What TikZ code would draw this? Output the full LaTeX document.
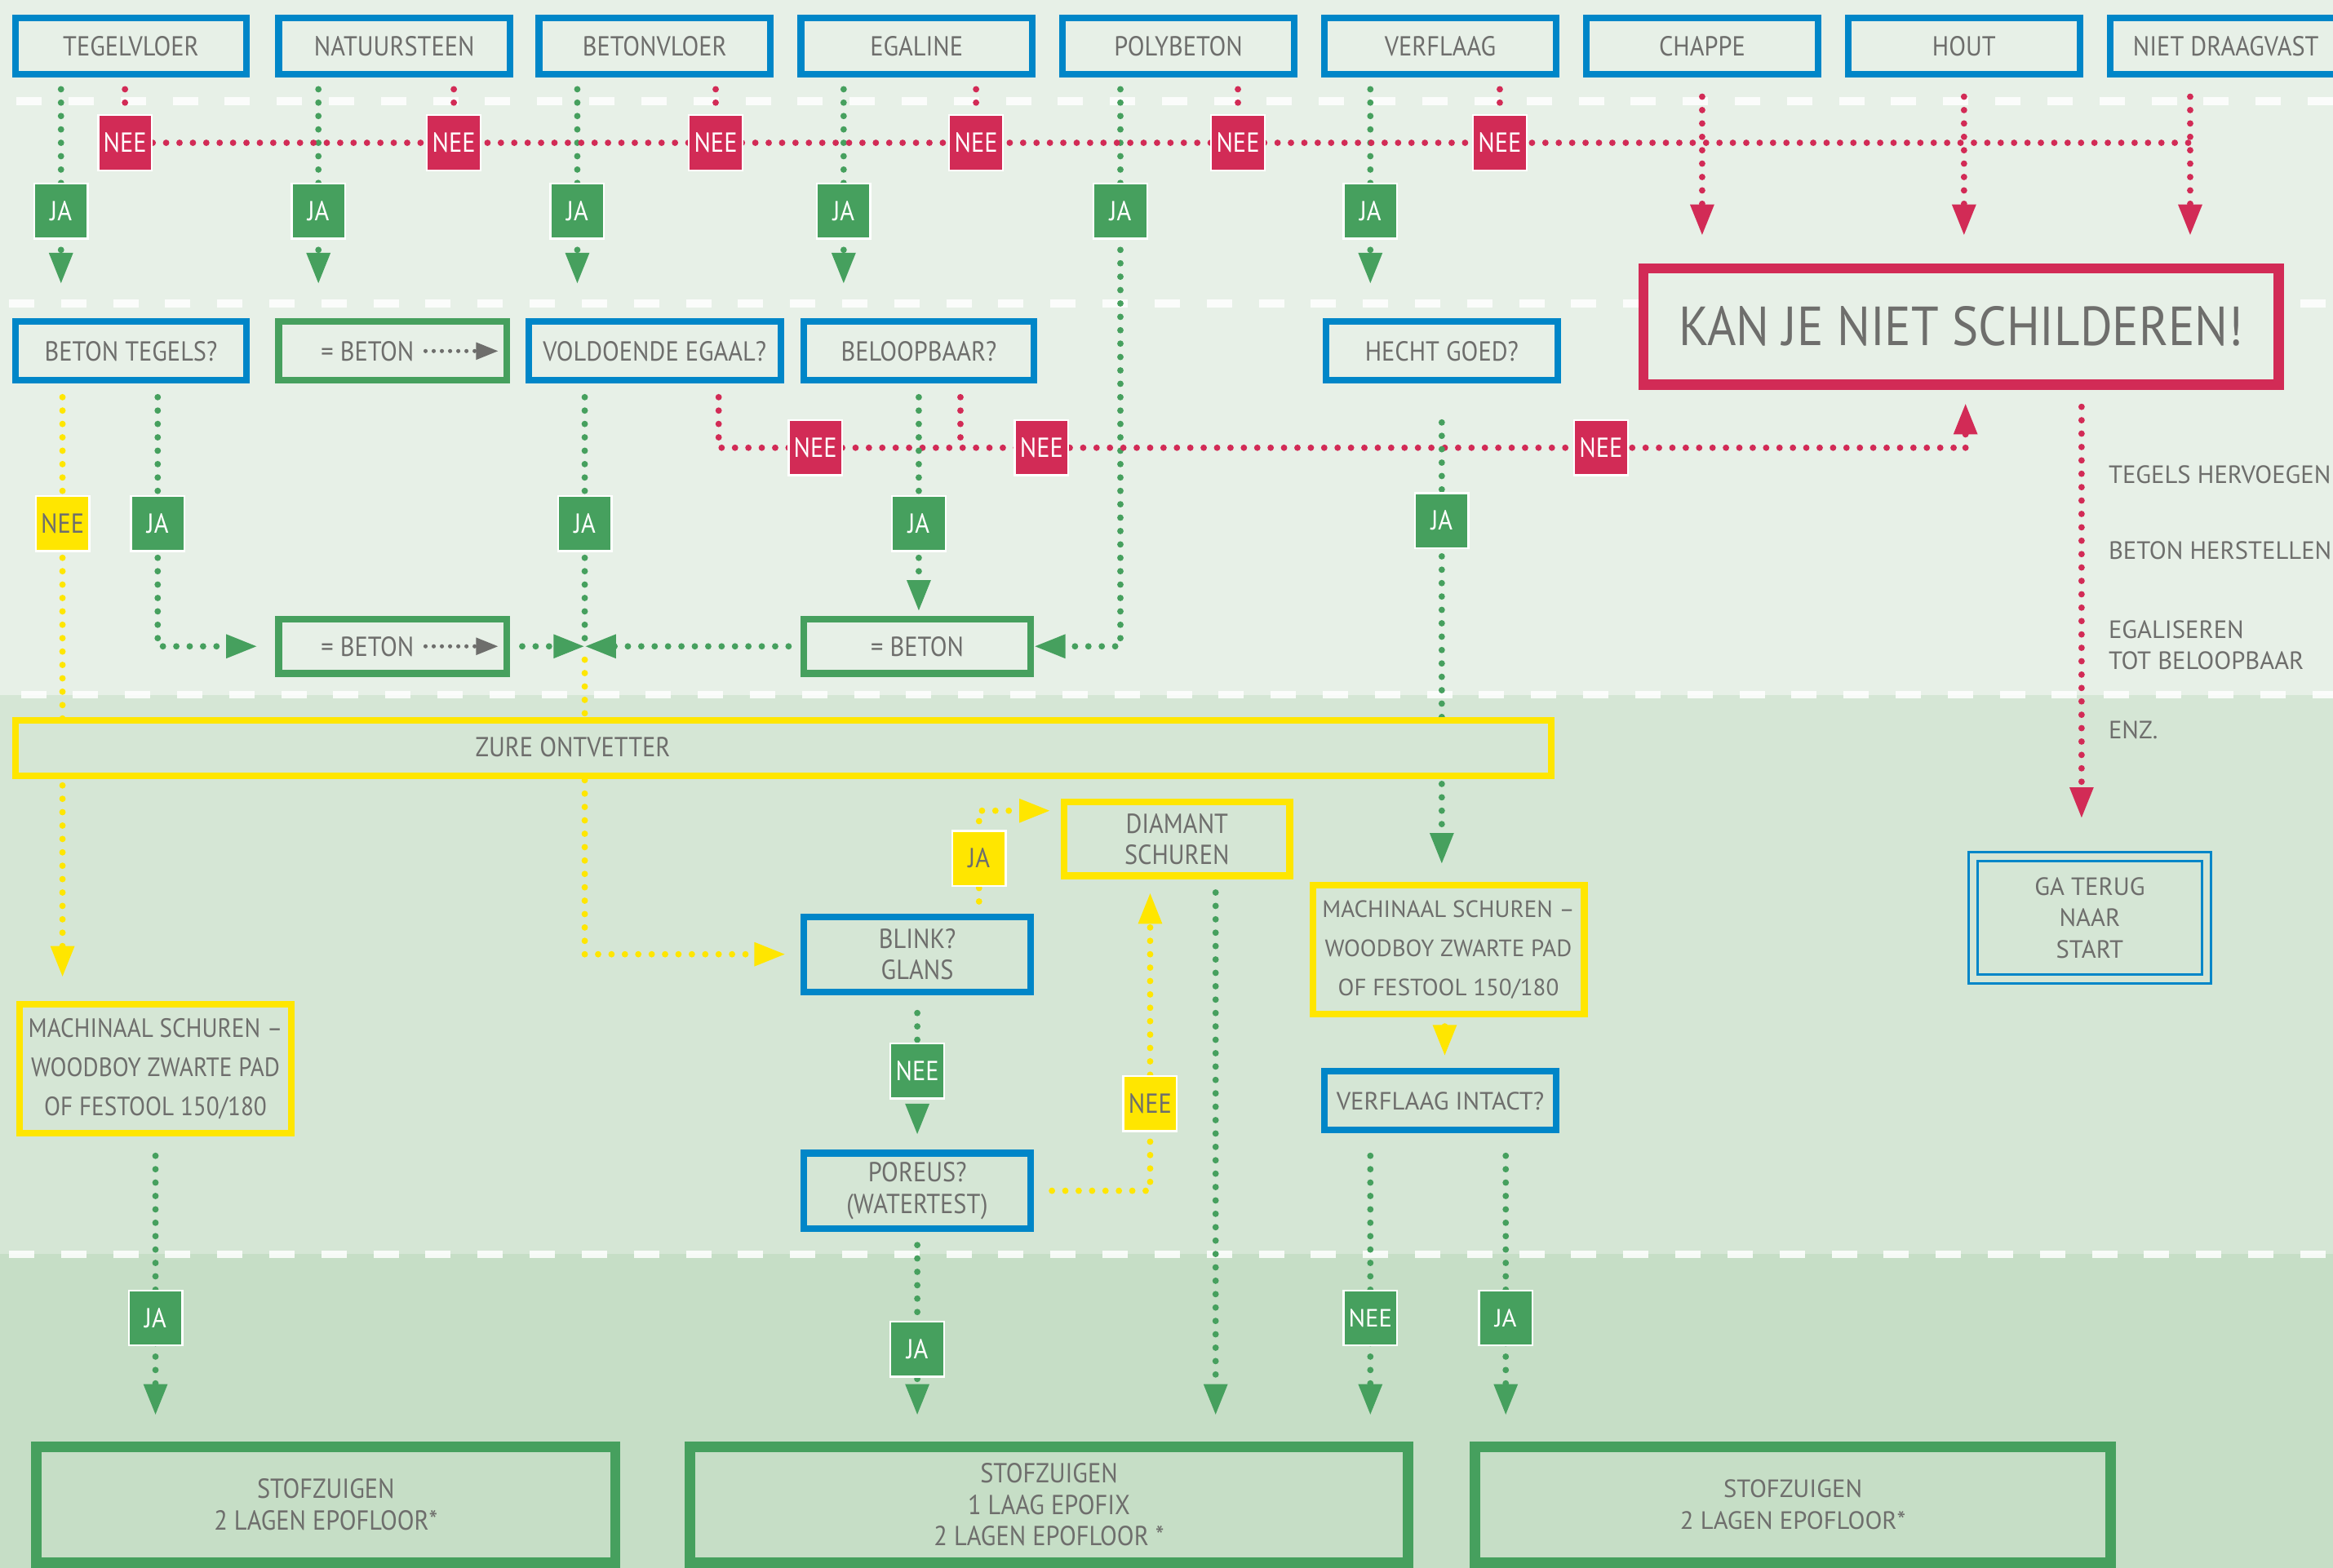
\documentclass[tikz,border=0pt]{standalone}
\usepackage{fontspec}
\setmainfont{PT Sans}
\newfontfamily\cndfont{PT Sans}[FakeStretch=0.9]
\usetikzlibrary{arrows.meta,calc}
\definecolor{bgA}{RGB}{231,240,231}
\definecolor{bgB}{RGB}{213,230,213}
\definecolor{bgC}{RGB}{198,222,198}
\definecolor{cblue}{RGB}{0,134,200}
\definecolor{cgreen}{RGB}{70,160,94}
\definecolor{cred}{RGB}{210,43,86}
\definecolor{cyel}{RGB}{255,230,0}
\definecolor{tgray}{RGB}{110,110,108}
\pgfdeclarelayer{bands}
\pgfdeclarelayer{wires}
\pgfsetlayers{bands,wires,main}
\begin{document}
\begin{tikzpicture}[x=1pt,y=-1pt,
  box/.style={draw, line width=4.5pt, inner sep=0pt, text=tgray, align=center, fill=bgA, font=\cndfont\fontsize{18.5}{21}\selectfont},
  bl/.style={box, draw=cblue},
  gr/.style={box, draw=cgreen},
  ye/.style={box, draw=cyel},
  topbox/.style={bl, minimum width=155.5pt, minimum height=37.5pt},
  widefont/.style={font=\fontsize{16.8}{21}\selectfont},
  lab/.style={draw=white, line width=1.3pt, minimum width=36pt, minimum height=37pt, inner sep=0pt, text=white, font=\cndfont\fontsize{18.5}{20}\selectfont},
  jag/.style={lab, fill=cgreen},
  neer/.style={lab, fill=cred},
  ney/.style={lab, fill=cyel, text=tgray},
  dotline/.style={line width=4.3pt, line cap=round, dash pattern=on 0pt off 9pt},
  gd/.style={dotline, draw=cgreen},
  rd/.style={dotline, draw=cred},
  yd/.style={dotline, draw=cyel},
  arr/.style={-{Triangle[width=15pt,length=21pt]}},
  wtxt/.style={text=tgray, font=\fontsize{16.8}{21}\selectfont, inner sep=0pt, align=left},
]
\useasboundingbox (0,0) rectangle (1568,1054);
\begin{pgfonlayer}{bands}
\fill[bgA] (0,0) rectangle (1568,467);
\fill[bgB] (0,467) rectangle (1568,843);
\fill[bgC] (0,843) rectangle (1568,1054);
\foreach \yy/\xs in {68/11,204/6,467/14,843/6}
  \draw[white, opacity=.85, line width=5pt, dash pattern=on 17pt off 18pt] (\xs,\yy) -- (1568,\yy);
\end{pgfonlayer}

% top row
\node[topbox] (t1) at (88,31) {TEGELVLOER};
\node[topbox] (t2) at (265,31) {NATUURSTEEN};
\node[topbox] (t3) at (440,31) {BETONVLOER};
\node[topbox] (t4) at (616,31) {EGALINE};
\node[topbox] (t5) at (792,31) {POLYBETON};
\node[topbox] (t6) at (968,31) {VERFLAAG};
\node[topbox] (t7) at (1144,31) {CHAPPE};
\node[topbox] (t8) at (1320,31) {HOUT};
\node[topbox] (t9) at (1496,31) {NIET DRAAGVAST};

% second row
\node[bl, minimum width=155.5pt, minimum height=39.5pt] (b1) at (88,236) {BETON TEGELS?};
\node[gr, minimum width=153.5pt, minimum height=39.5pt] (b2) at (264,236) {= BETON\hspace{34pt}};
\node[bl, minimum width=169.5pt, minimum height=39.5pt] (b3) at (440,236) {VOLDOENDE EGAAL?};
\node[bl, minimum width=154.5pt, minimum height=39.5pt] (b4) at (617.5,236) {BELOOPBAAR?};
\node[bl, minimum width=155.5pt, minimum height=39.5pt] (b6) at (969,236) {HECHT GOED?};
\node[box, draw=cred, line width=7pt, minimum width=427pt, minimum height=78pt, font=\cndfont\fontsize{37}{40}\selectfont] (kan) at (1318,219.5) {KAN JE NIET SCHILDEREN!};

% third row
\node[gr, minimum width=153.5pt, minimum height=36.5pt] (eb2) at (264,434.5) {= BETON\hspace{34pt}};
\node[gr, minimum width=152.5pt, minimum height=36.5pt] (eb3) at (616.5,434.5) {= BETON};

% zure ontvetter
\node[ye, fill=bgB, minimum width=1032.5pt, minimum height=37.5pt] (zure) at (526.5,503) {};
\node[text=tgray, font=\cndfont\fontsize{18.5}{21}\selectfont, inner sep=0pt] (zuret) at (385,502) {ZURE ONTVETTER};

% middle
\node[ye, fill=bgB, minimum width=151.5pt, minimum height=49.5pt] (diam) at (791,564) {DIAMANT\\SCHUREN};
\node[bl, fill=bgB, minimum width=152.5pt, minimum height=50.5pt] (blink) at (616.5,641.5) {BLINK?\\GLANS};
\node[bl, fill=bgB, minimum width=152.5pt, minimum height=50.5pt] (poreus) at (616.5,800.5) {POREUS?\\(WATERTEST)};
\node[ye, fill=bgB, minimum width=182.5pt, minimum height=86.5pt, font=\fontsize{15.9}{26.5}\selectfont] (mach2) at (973.5,638.5) {MACHINAAL SCHUREN –\\WOODBOY ZWARTE PAD\\OF FESTOOL 150/180};
\node[bl, fill=bgB, minimum width=155.5pt, minimum height=39.5pt, widefont] (verfl) at (968,740) {VERFLAAG INTACT?};
\node[ye, fill=bgB, minimum width=182.5pt, minimum height=86.5pt, font=\cndfont\fontsize{17.8}{26.5}\selectfont] (mach1) at (104.5,718.5) {MACHINAAL SCHUREN –\\WOODBOY ZWARTE PAD\\OF FESTOOL 150/180};
\node[draw=cblue, double=bgB, double distance=4.5pt, line width=1.5pt, minimum width=157pt, minimum height=82pt, inner sep=0pt, text=tgray, align=center, font=\fontsize{16.8}{21}\selectfont] (gaterug) at (1404.5,617) {GA TERUG\\NAAR\\START};

% right side texts
\node[wtxt, anchor=west] (h1) at (1417,319) {TEGELS HERVOEGEN};
\node[wtxt, anchor=west] (h2) at (1417,370) {BETON HERSTELLEN};
\node[wtxt, anchor=west] (h3) at (1417,433.5) {EGALISEREN\\TOT BELOOPBAAR};
\node[wtxt, anchor=west] (h4) at (1417,491) {ENZ.};

% bottom
\node[gr, fill=bgC, line width=7pt, minimum width=389pt, minimum height=78pt] (bleft) at (219,1011.5) {STOFZUIGEN\\2 LAGEN EPOFLOOR*};
\node[gr, fill=bgC, line width=7pt, minimum width=483pt, minimum height=78pt] (bmid) at (705,1011.5) {STOFZUIGEN\\1 LAAG EPOFIX\\2 LAGEN EPOFLOOR *};
\node[gr, fill=bgC, line width=7pt, minimum width=427pt, minimum height=78pt, widefont] (bright) at (1205,1011.5) {STOFZUIGEN\\2 LAGEN EPOFLOOR*};

% labels
\node[neer] (n1) at (84,96) {NEE};
\node[neer] (n2) at (305,96) {NEE};
\node[neer] (n3) at (481,96) {NEE};
\node[neer] (n4) at (656,96) {NEE};
\node[neer] (n5) at (832,96) {NEE};
\node[neer] (n6) at (1008,96) {NEE};
\node[jag] (j1l) at (41,142) {JA};
\node[jag] (j2l) at (214,142) {JA};
\node[jag] (j3l) at (388,142) {JA};
\node[jag] (j4l) at (567,142) {JA};
\node[jag] (j5l) at (753,142) {JA};
\node[jag] (j6l) at (921,142) {JA};
\node[ney] (ny1) at (42,352) {NEE};
\node[jag] (ja7) at (106,352) {JA};
\node[jag] (ja8) at (393,352) {JA};
\node[neer] (nr7) at (548,301) {NEE};
\node[jag] (ja9) at (617.5,352) {JA};
\node[neer] (nr8) at (700,301) {NEE};
\node[jag] (ja10) at (969,350) {JA};
\node[neer] (nr9) at (1076,301) {NEE};
\node[ney] (jy1) at (658,577) {JA};
\node[jag] (ng1) at (616.5,720) {NEE};
\node[ney] (ny2) at (773,742) {NEE};
\node[jag] (ja11) at (104.5,886) {JA};
\node[jag] (ja12) at (616.5,907) {JA};
\node[jag, widefont] (ng2) at (921,886) {NEE};
\node[jag, widefont] (ja13) at (1012,886) {JA};

% small gray arrows inside = BETON boxes
\foreach \bx in {b2,eb2}
  \draw[tgray, line width=2.8pt, line cap=round, dash pattern=on 0pt off 5.5pt, -{Triangle[width=11pt,length=15pt]}] ([xshift=-57pt]\bx.east) -- ([xshift=-8pt]\bx.east);

\coordinate (rj) at (1472,96);
\coordinate (rr) at (1321,301);
\coordinate (jc) at (658,545);
\coordinate (jx) at ([xshift=-47pt]b3.south |- eb2.east);

\begin{pgfonlayer}{wires}
% top green yes-lines
\draw[gd, arr, shorten <=8pt, shorten >=23pt] ([xshift=-47pt]t1.south) -- ([xshift=-47pt]t1.south |- b1.north);
\draw[gd, arr, shorten <=8pt, shorten >=23pt] ([xshift=-51pt]t2.south) -- ([xshift=-51pt]t2.south |- b2.north);
\draw[gd, arr, shorten <=8pt, shorten >=23pt] ([xshift=-52pt]t3.south) -- ([xshift=-52pt]t3.south |- b3.north);
\draw[gd, arr, shorten <=8pt, shorten >=23pt] ([xshift=-49pt]t4.south) -- ([xshift=-49pt]t4.south |- b4.north);
\draw[gd, arr, shorten <=8pt] ([xshift=-39pt]t5.south) |- (eb3.east);
\draw[gd, arr, shorten <=8pt, shorten >=23pt] ([xshift=-47pt]t6.south) -- ([xshift=-47pt]t6.south |- b6.north);
% top red no-lines
\draw[rd, shorten <=8pt] ([xshift=-4pt]t1.south) -- (n1);
\draw[rd, shorten <=8pt] ([xshift=40pt]t2.south) -- (n2);
\draw[rd, shorten <=8pt] ([xshift=41pt]t3.south) -- (n3);
\draw[rd, shorten <=8pt] ([xshift=40pt]t4.south) -- (n4);
\draw[rd, shorten <=8pt] ([xshift=40pt]t5.south) -- (n5);
\draw[rd, shorten <=8pt] ([xshift=40pt]t6.south) -- (n6);
\draw[rd] (n1) -- (rj);
\draw[rd, arr, shorten <=13pt, shorten >=18.5pt] (t7.south) -- (t7.south |- kan.north);
\draw[rd, arr, shorten <=13pt, shorten >=18.5pt] (t8.south) -- (t8.south |- kan.north);
\draw[rd, arr, shorten <=13pt, shorten >=18.5pt] ([xshift=-24pt]t9.south) -- ([xshift=-24pt]t9.south |- kan.north);
% second level
\draw[yd, arr, shorten <=9pt, shorten >=16pt] ([xshift=-46pt]b1.south) -- ([xshift=-46pt]b1.south |- mach1.north);
\draw[gd, arr, shorten <=9pt, shorten >=12pt] ([xshift=18pt]b1.south) |- (eb2.west);
\draw[gd, shorten <=9pt] ([xshift=-47pt]b3.south) -- (jx);
\draw[gd, arr, shorten <=8pt] (eb2.east) -- (jx);
\draw[gd, arr, shorten <=8pt] (eb3.west) -- (jx);
\draw[yd, arr, shorten <=9pt, shorten >=10pt] (jx) |- (blink.west);
\draw[rd, shorten <=9pt] ([xshift=43pt]b3.south) |- (rr);
\draw[rd, arr, shorten >=9pt] (rr) -- (rr |- kan.south);
\draw[rd, shorten <=9pt] ([xshift=28pt]b4.south) -- ([xshift=28pt]b4.south |- rr);
\draw[gd, arr, shorten <=9pt, shorten >=3pt] (b4.south) -- (b4.south |- eb3.north);
\draw[gd, arr, shorten <=26pt, shorten >=12pt] (b6.south) -- (b6.south |- mach2.north);
\draw[rd, arr, shorten <=11.5pt, shorten >=25pt] ([xshift=81pt]kan.south) -- ([xshift=81pt]kan.south |- gaterug.north);
% middle
\draw[yd, arr, shorten <=8pt, shorten >=7pt] (blink.north -| jc) |- (diam.west |- jc);
\draw[gd, arr, shorten <=12pt, shorten >=10pt] (blink.south) -- (poreus.north);
\draw[yd, arr, shorten <=12pt, shorten >=9pt] (poreus.east) -| ([xshift=-18pt]diam.south);
\draw[gd, arr, shorten <=9pt, shorten >=17.5pt] (poreus.south) -- (poreus.south |- bmid.north);
\draw[gd, arr, shorten <=9pt, shorten >=17.5pt] ([xshift=26pt]diam.south) -- ([xshift=26pt]diam.south |- bmid.north);
\draw[yd, arr, shorten <=6pt, shorten >=8pt] ([xshift=-2.5pt]mach2.south) -- ([xshift=-2.5pt]mach2.south |- verfl.north);
\draw[gd, arr, shorten <=15pt, shorten >=17.5pt] ([xshift=-47pt]verfl.south) -- ([xshift=-47pt]verfl.south |- bmid.north);
\draw[gd, arr, shorten <=15pt, shorten >=17.5pt] ([xshift=44pt]verfl.south) -- ([xshift=44pt]verfl.south |- bright.north);
\draw[gd, arr, shorten <=13pt, shorten >=17.5pt] (mach1.south) -- (mach1.south |- bleft.north);
\end{pgfonlayer}
\end{tikzpicture}
\end{document}
